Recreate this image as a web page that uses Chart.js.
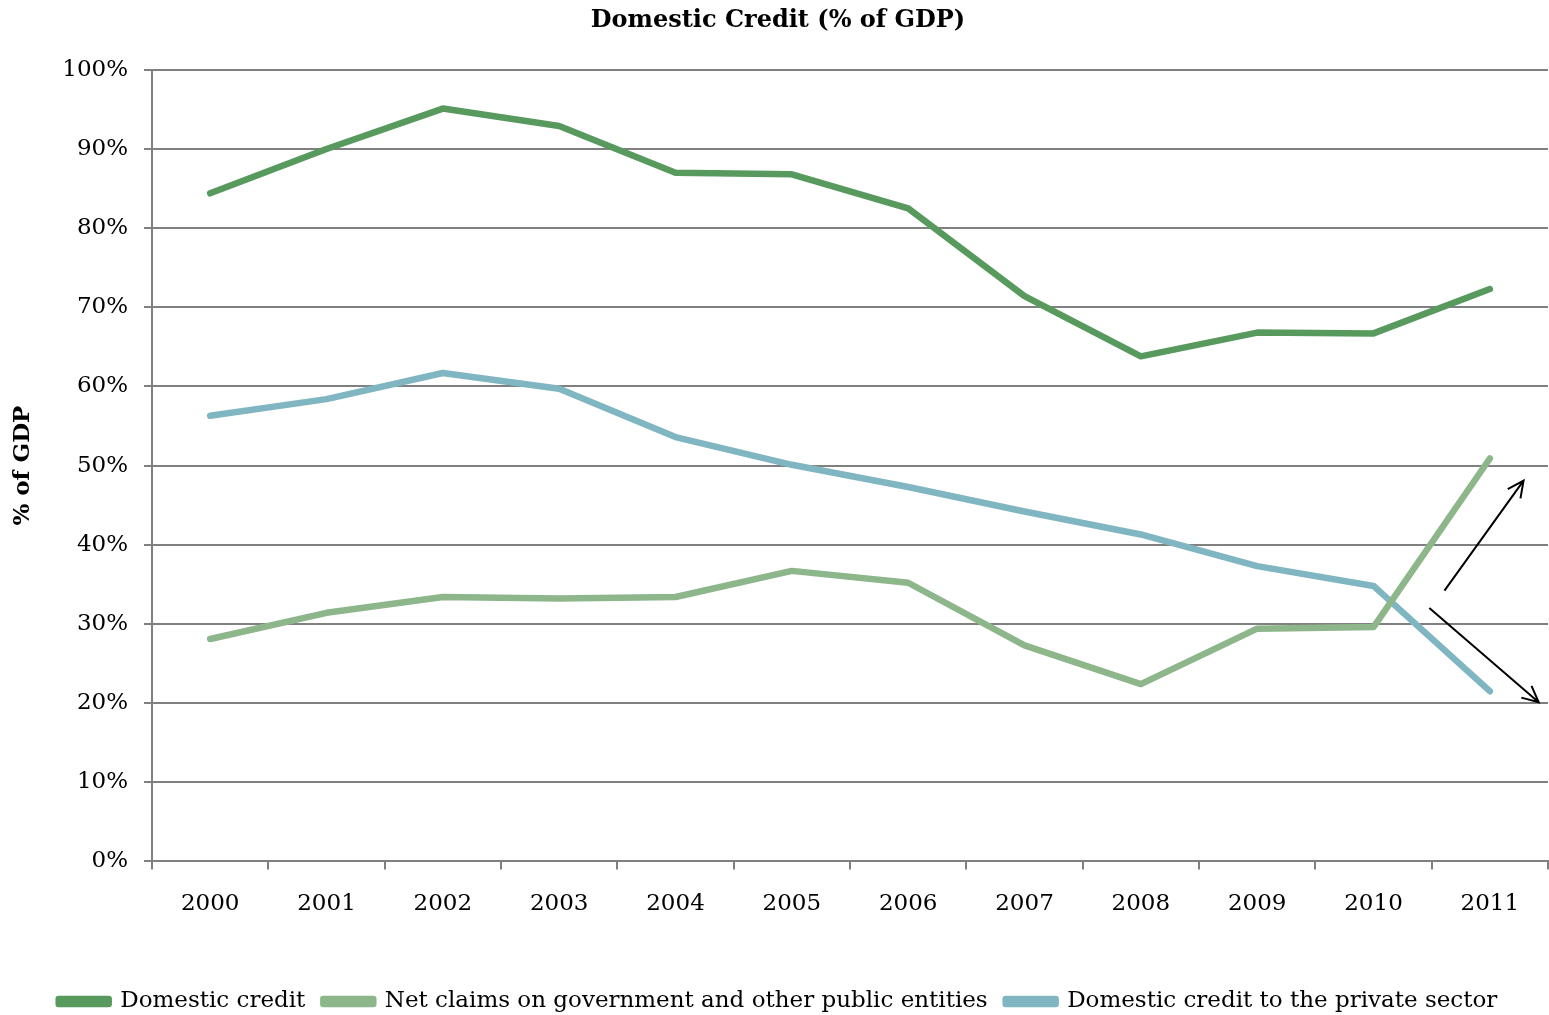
<!DOCTYPE html>
<html>
<head>
<meta charset="utf-8">
<script src="https://cdn.jsdelivr.net/npm/chart.js@4/dist/chart.umd.min.js"></script>
<style>
  body { margin: 0; background: #fff; }
</style>
</head>
<body>
<canvas id="chart" width="1549" height="1015"></canvas>
<script>
const years = ['2000', '2001', '2002', '2003', '2004', '2005', '2006', '2007', '2008', '2009', '2010', '2011'];
const domesticCredit = [84.4, 90.0, 95.1, 92.9, 87.0, 86.8, 82.5, 71.4, 63.8, 66.8, 66.7, 72.3];
const netClaims = [28.1, 31.4, 33.4, 33.2, 33.4, 36.7, 35.2, 27.3, 22.4, 29.4, 29.6, 50.9];
const privateCredit = [56.3, 58.4, 61.7, 59.7, 53.6, 50.1, 47.3, 44.2, 41.3, 37.3, 34.8, 21.5];
const yTicks = [0, 10, 20, 30, 40, 50, 60, 70, 80, 90, 100];
// arrows: start/end in data units (category index, percent)
const arrows = [
    { x0: 10.61, y0: 34.2, x1: 11.29, y1: 48.1 },
    { x0: 10.48, y0: 32.0, x1: 11.42, y1: 20.1 }
];

const serif = "'DejaVu Serif', 'Liberation Serif', serif";

const arrowPlugin = {
    id: 'arrows',
    afterDatasetsDraw(chart) {
        const ctx = chart.ctx;
        const xs = chart.scales.x, ys = chart.scales.y;
        ctx.save();
        ctx.strokeStyle = '#000';
        ctx.lineWidth = 2;
        arrows.forEach(a => {
            const x0 = xs.getPixelForValue(a.x0), y0 = ys.getPixelForValue(a.y0);
            const x1 = xs.getPixelForValue(a.x1), y1 = ys.getPixelForValue(a.y1);
            const ang = Math.atan2(y1 - y0, x1 - x0);
            const head = 18;
            ctx.beginPath();
            ctx.moveTo(x0, y0);
            ctx.lineTo(x1, y1);
            ctx.moveTo(x1 - head * Math.cos(ang - 0.45), y1 - head * Math.sin(ang - 0.45));
            ctx.lineTo(x1, y1);
            ctx.lineTo(x1 - head * Math.cos(ang + 0.45), y1 - head * Math.sin(ang + 0.45));
            ctx.stroke();
        });
        ctx.restore();
    }
};

new Chart(document.getElementById('chart'), {
    type: 'line',
    data: {
        labels: years,
        datasets: [{
            label: 'Domestic credit',
            data: domesticCredit,
            borderColor: '#589a5e',
            backgroundColor: '#589a5e',
            borderWidth: 6.5
        }, {
            label: 'Net claims on government and other public entities',
            data: netClaims,
            borderColor: '#8db68b',
            backgroundColor: '#8db68b',
            borderWidth: 6.5
        }, {
            label: 'Domestic credit to the private sector',
            data: privateCredit,
            borderColor: '#80b5c2',
            backgroundColor: '#80b5c2',
            borderWidth: 6.5
        }]
    },
    options: {
        responsive: false,
        animation: false,
        elements: {
            point: { radius: 0 },
            line: { tension: 0, borderCapStyle: 'round', borderJoinStyle: 'round' }
        },
        layout: { padding: { top: 6, right: 1, left: 8, bottom: -8 } },
        plugins: {
            title: {
                display: true,
                text: 'Domestic Credit (% of GDP)',
                color: '#000',
                font: { family: serif, size: 24, weight: 'bold' },
                padding: { top: 0, bottom: 35 }
            },
            legend: {
                position: 'bottom',
                labels: {
                    color: '#000',
                    font: { family: serif, size: 23 },
                    boxWidth: 50,
                    boxHeight: 5,
                    padding: 18
                }
            },
            tooltip: { enabled: false }
        },
        scales: {
            x: {
                offset: true,
                afterFit(scale) {
                    scale.height = scale.height + 33;
                },
                grid: {
                    offset: true,
                    drawOnChartArea: false,
                    drawTicks: true,
                    tickLength: 8,
                    color: '#808080',
                    lineWidth: 2
                },
                border: { color: '#808080', width: 2 },
                ticks: {
                    color: '#000',
                    font: { family: serif, size: 23 },
                    padding: 21
                }
            },
            y: {
                min: 0,
                max: 100,
                afterFit(scale) {
                    scale.width = 144;
                },
                afterBuildTicks(scale) {
                    scale.ticks = yTicks.map(v => ({ value: v }));
                },
                grid: {
                    color: '#808080',
                    lineWidth: 2,
                    tickLength: 8
                },
                border: { color: '#808080', width: 2 },
                ticks: {
                    color: '#000',
                    font: { family: serif, size: 23 },
                    padding: 16,
                    callback: v => v + '%'
                },
                title: {
                    display: true,
                    text: '% of GDP',
                    color: '#000',
                    font: { family: serif, size: 23, weight: 'bold' },
                    padding: { top: 1, bottom: 0 }
                }
            }
        }
    },
    plugins: [arrowPlugin]
});
</script>
</body>
</html>
